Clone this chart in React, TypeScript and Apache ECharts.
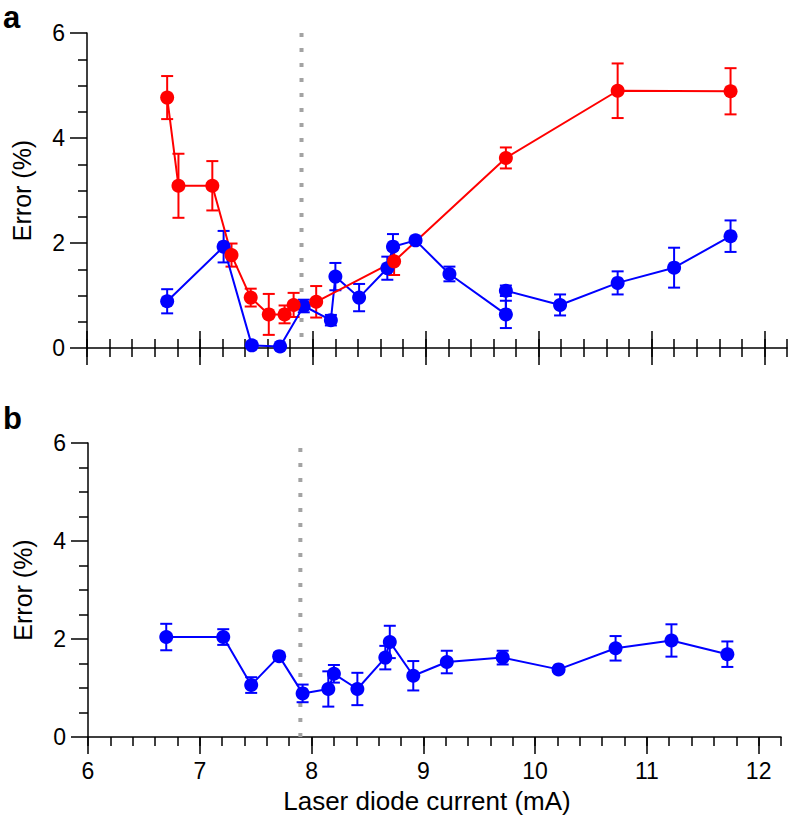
import React, { useEffect, useRef } from "react";
import * as echarts from "echarts";

// Panel a — red series
const RED_X = [6.71, 6.81, 7.11, 7.28, 7.45, 7.61, 7.75, 7.83, 8.03, 8.72, 9.71, 10.7, 11.7];
const RED_Y = [4.77, 3.09, 3.09, 1.77, 0.96, 0.64, 0.64, 0.82, 0.88, 1.65, 3.62, 4.9, 4.89];
const RED_ERR = [0.41, 0.61, 0.47, 0.22, 0.17, 0.39, 0.17, 0.23, 0.3, 0.26, 0.2, 0.52, 0.44];

// Panel a — blue series
const BLUE_A_X = [6.71, 7.21, 7.46, 7.71, 7.92, 8.16, 8.2, 8.41, 8.66, 8.71, 8.91, 9.21, 9.71, 9.71, 10.19, 10.7, 11.2, 11.7];
const BLUE_A_Y = [0.89, 1.93, 0.05, 0.03, 0.8, 0.53, 1.36, 0.96, 1.52, 1.93, 2.05, 1.41, 0.64, 1.09, 0.82, 1.24, 1.53, 2.13];
const BLUE_A_ERR = [0.23, 0.3, 0.03, 0.03, 0.12, 0.1, 0.26, 0.26, 0.22, 0.24, 0.05, 0.14, 0.26, 0.1, 0.2, 0.22, 0.38, 0.3];

// Panel b — blue series
const BLUE_B_X = [6.7, 7.21, 7.46, 7.71, 7.92, 8.15, 8.2, 8.41, 8.66, 8.7, 8.91, 9.21, 9.71, 10.21, 10.72, 11.22, 11.72];
const BLUE_B_Y = [2.04, 2.04, 1.06, 1.65, 0.89, 0.98, 1.29, 0.98, 1.62, 1.94, 1.25, 1.53, 1.62, 1.38, 1.81, 1.97, 1.69];
const BLUE_B_ERR = [0.27, 0.16, 0.16, 0.07, 0.18, 0.36, 0.18, 0.33, 0.24, 0.33, 0.3, 0.23, 0.14, 0.05, 0.25, 0.33, 0.26];

// Threshold marker
const THRESHOLD_X = 7.9;
const X_TICKS = [6, 7, 8, 9, 10, 11, 12];

const RED = "#ff0000";
const BLUE = "#0000ff";
const FONT = "'Liberation Sans', Arial, Helvetica, sans-serif";

function pts(xs: number[], ys: number[]) {
  return xs.map((x, i) => [x, ys[i]]);
}
function errs(xs: number[], ys: number[], es: number[]) {
  return xs.map((x, i) => [x, ys[i] - es[i], ys[i] + es[i]]);
}

function errorSeries(data: number[][], color: string, xIdx: number, yIdx: number) {
  return {
    type: "custom",
    xAxisIndex: xIdx,
    yAxisIndex: yIdx,
    z: 3,
    silent: true,
    data,
    encode: { x: 0, y: [1, 2] },
    renderItem: (params: any, api: any) => {
      const x = api.value(0);
      const lo = api.coord([x, api.value(1)]);
      const hi = api.coord([x, api.value(2)]);
      const w = 6;
      const style = { stroke: color, lineWidth: 2 };
      return {
        type: "group",
        children: [
          { type: "line", shape: { x1: lo[0], y1: lo[1], x2: hi[0], y2: hi[1] }, style },
          { type: "line", shape: { x1: hi[0] - w, y1: hi[1], x2: hi[0] + w, y2: hi[1] }, style },
          { type: "line", shape: { x1: lo[0] - w, y1: lo[1], x2: lo[0] + w, y2: lo[1] }, style },
        ],
      };
    },
  };
}

function lineSeries(data: number[][], color: string, xIdx: number, yIdx: number) {
  return {
    type: "line",
    xAxisIndex: xIdx,
    yAxisIndex: yIdx,
    z: 4,
    data,
    symbol: "circle",
    symbolSize: 14,
    itemStyle: { color },
    lineStyle: { color, width: 2 },
  };
}

function thresholdSeries(xIdx: number, yIdx: number, fromTop: boolean) {
  const ends = fromTop ? [6, 0] : [0, 6];
  return {
    type: "line",
    xAxisIndex: xIdx,
    yAxisIndex: yIdx,
    z: 1,
    silent: true,
    data: ends.map((v) => [THRESHOLD_X, v]),
    symbol: "none",
    lineStyle: { color: "#a3a3a3", width: 4, type: [4, 11], cap: "butt" },
  };
}

const baseX = {
  type: "value",
  min: 6,
  max: 12.2,
  position: "bottom",
  splitLine: { show: false },
  axisLabel: { show: false },
};

export default function App() {
  const ref = useRef<HTMLDivElement>(null);
  useEffect(() => {
    if (!ref.current) return;
    const chart = echarts.init(ref.current, undefined, { renderer: "svg" });
    const black = { color: "#000", width: 1.5 };
    const yAxisBase = (grid: number) => ({
      type: "value",
      gridIndex: grid,
      min: 0,
      max: 6,
      interval: 2,
      position: "left",
      name: "Error (%)",
      nameLocation: "middle",
      nameGap: 53,
      nameTextStyle: { fontSize: 25, color: "#000", fontFamily: FONT },
      splitLine: { show: false },
      axisLine: { show: true, onZero: false, lineStyle: black },
      axisTick: { show: true, length: 17, lineStyle: black },
      minorTick: { show: true, splitNumber: 4, length: 9, lineStyle: black },
      axisLabel: { fontSize: 23, color: "#000", margin: 22, fontFamily: FONT },
    });
    chart.setOption({
      animation: false,
      backgroundColor: "#fff",
      textStyle: { fontFamily: FONT },
      grid: [
        { left: 87, top: 33, width: 700, height: 315 },
        { left: 88, top: 443, width: 693, height: 294 },
      ],
      xAxis: [
        // panel a: data axis (line only)
        { ...baseX, gridIndex: 0, axisLine: { show: true, onZero: false, lineStyle: black }, axisTick: { show: false } },
        // panel a: crossing minor ticks
        {
          ...baseX,
          gridIndex: 0,
          interval: 0.2,
          offset: 9,
          axisLine: { show: false, onZero: false },
          axisTick: { show: true, inside: true, length: 18, lineStyle: black },
        },
        // panel a: crossing major ticks
        {
          ...baseX,
          gridIndex: 0,
          interval: 1,
          offset: 17,
          axisLine: { show: false, onZero: false },
          axisTick: { show: true, inside: true, length: 34, lineStyle: black, customValues: X_TICKS },
        },
        // panel b: data axis with minor ticks
        {
          ...baseX,
          gridIndex: 1,
          interval: 0.2,
          axisLine: { show: true, onZero: false, lineStyle: black },
          axisTick: { show: true, length: 9, lineStyle: black },
        },
        // panel b: major ticks and labels
        {
          ...baseX,
          gridIndex: 1,
          interval: 1,
          axisLine: { show: false, onZero: false },
          axisTick: { show: true, length: 17, lineStyle: black, customValues: X_TICKS },
          axisLabel: {
            show: true,
            customValues: X_TICKS,
            fontSize: 23,
            color: "#000",
            margin: 22,
            fontFamily: FONT,
          },
        },
      ],
      yAxis: [yAxisBase(0), yAxisBase(1)],
      graphic: [
        { type: "text", left: 3, top: 2, style: { text: "a", font: `bold 31px ${FONT}`, fill: "#000" } },
        { type: "text", left: 3, top: 403, style: { text: "b", font: `bold 31px ${FONT}`, fill: "#000" } },
        {
          type: "text",
          x: 427,
          y: 801,
          style: {
            text: "Laser diode current (mA)",
            font: `26px ${FONT}`,
            fill: "#000",
            textAlign: "center",
            textVerticalAlign: "middle",
          },
        },
      ],
      series: [
        thresholdSeries(0, 0, true),
        errorSeries(errs(BLUE_A_X, BLUE_A_Y, BLUE_A_ERR), BLUE, 0, 0),
        lineSeries(pts(BLUE_A_X, BLUE_A_Y), BLUE, 0, 0),
        errorSeries(errs(RED_X, RED_Y, RED_ERR), RED, 0, 0),
        lineSeries(pts(RED_X, RED_Y), RED, 0, 0),
        thresholdSeries(3, 1, false),
        errorSeries(errs(BLUE_B_X, BLUE_B_Y, BLUE_B_ERR), BLUE, 3, 1),
        lineSeries(pts(BLUE_B_X, BLUE_B_Y), BLUE, 3, 1),
      ],
    });
    return () => chart.dispose();
  }, []);
  return (
    <div
      ref={ref}
      style={{ position: "absolute", left: 0, top: 0, width: 788, height: 822, background: "#fff" }}
    />
  );
}
